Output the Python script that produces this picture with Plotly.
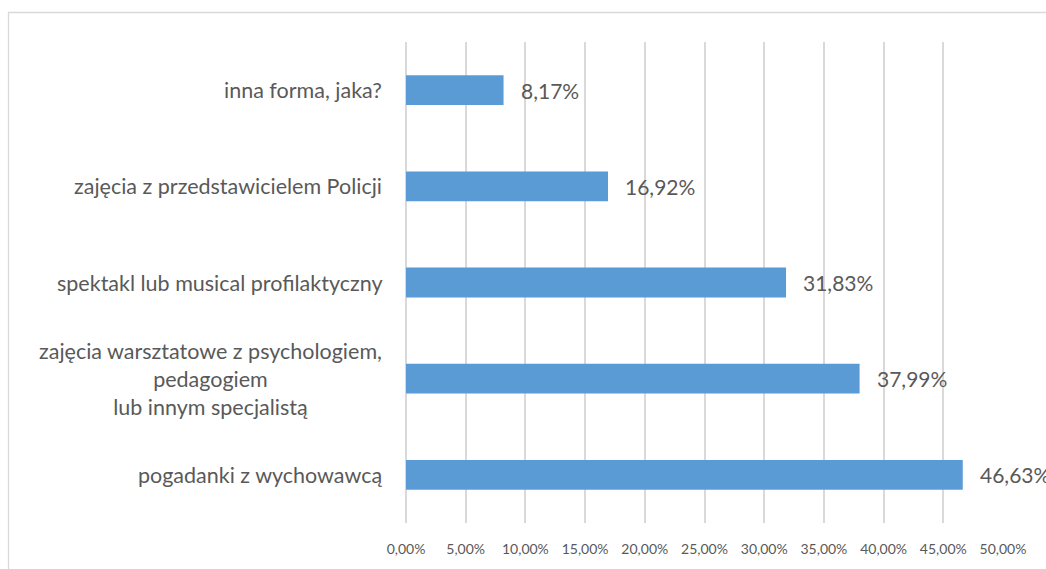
import plotly.graph_objects as go

# Survey answers (bottom to top) and their shares
categories = [
    "pogadanki z wychowawcą",
    "zajęcia warsztatowe z psychologiem,<br>pedagogiem<br>lub innym specjalistą",
    "spektakl lub musical profilaktyczny",
    "zajęcia z przedstawicielem Policji",
    "inna forma, jaka?",
]
shares = [0.4663, 0.3799, 0.3183, 0.1692, 0.0817]
tick_values = [0.0, 0.05, 0.10, 0.15, 0.20, 0.25, 0.30, 0.35, 0.40, 0.45, 0.50]

TEXT = "#595959"
FONT = "Lato"

ML, MR, MT, MB = 406, 43, 42, 46
W, H = 1046, 569

fig = go.Figure(
    go.Bar(
        x=shares,
        y=categories,
        orientation="h",
        marker=dict(color="#5B9BD5", line=dict(width=0)),
        width=0.31,
        hoverinfo="skip",
    )
)

# value labels to the right of each bar
for cat, val in zip(categories, shares):
    fig.add_annotation(
        x=val, y=cat, xref="x", yref="y",
        text=f"{val * 100:.2f}%".replace(".", ","),
        showarrow=False, xanchor="left", yanchor="middle", xshift=15,
        font=dict(family=FONT, size=21, color=TEXT),
    )

# category labels, right-aligned against the axis, lines centred
for cat in categories:
    fig.add_annotation(
        x=0, y=cat, xref="paper", yref="y",
        text=cat, align="center",
        showarrow=False, xanchor="right", yanchor="middle", xshift=-22,
        font=dict(family=FONT, size=21.5, color=TEXT),
    )

# chart frame
pw, ph = W - ML - MR, H - MT - MB
fig.add_shape(
    type="rect", xref="paper", yref="paper",
    x0=(8.5 - ML) / pw, x1=(W + 20 - ML) / pw,
    y0=-(MB + 20) / ph, y1=(H - MB - 12.5) / ph,
    line=dict(color="#D9D9D9", width=1.3), fillcolor="rgba(0,0,0,0)",
    layer="below",
)

fig.update_layout(
    width=W, height=H,
    margin=dict(l=ML, r=MR, t=MT, b=MB, autoexpand=False),
    paper_bgcolor="white", plot_bgcolor="white",
    separators=", ",
    showlegend=False,
    xaxis=dict(
        range=[0, 0.5], tickvals=tick_values, tickformat=".2%",
        showgrid=True, gridcolor="#D9D9D9", gridwidth=1.5,
        zeroline=True, zerolinecolor="#D9D9D9", zerolinewidth=1.5,
        showline=False, ticks="", ticklabelstandoff=16,
        tickfont=dict(family=FONT, size=14, color=TEXT),
        automargin=False, fixedrange=True,
    ),
    yaxis=dict(
        categoryorder="array", categoryarray=categories,
        showticklabels=False, showgrid=False, zeroline=False, showline=False,
        range=[-0.5, 4.5], automargin=False, fixedrange=True,
    ),
)

fig.write_html("out.html", config={"displayModeBar": False})
